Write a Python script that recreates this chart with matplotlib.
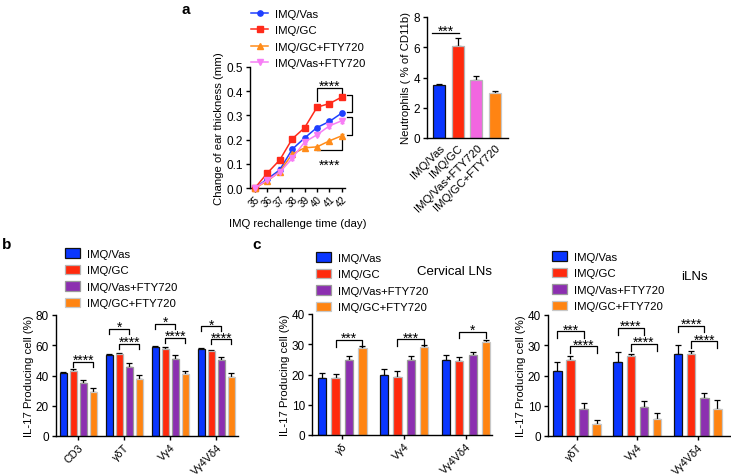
import matplotlib
matplotlib.use("Agg")
import matplotlib.pyplot as plt
from matplotlib.patches import Patch
from matplotlib.lines import Line2D
import numpy as np

plt.rcParams['font.family'] = ['Liberation Sans', 'DejaVu Sans']
plt.rcParams['font.size'] = 8.5
plt.rcParams['axes.linewidth'] = 1.0
plt.rcParams['xtick.major.width'] = 1.0
plt.rcParams['ytick.major.width'] = 1.0
plt.rcParams['xtick.major.size'] = 3
plt.rcParams['ytick.major.size'] = 3
plt.rcParams['xtick.labelsize'] = 8.5
plt.rcParams['ytick.labelsize'] = 8.5
plt.rcParams['ytick.major.pad'] = 2

# ---------------- data ----------------
days = [35, 36, 37, 38, 39, 40, 41, 42]
line_labels = ["IMQ/Vas", "IMQ/GC", "IMQ/GC+FTY720", "IMQ/Vas+FTY720"]
ear_vas = [0.0, 0.037, 0.075, 0.160, 0.207, 0.250, 0.275, 0.310]
ear_gc = [0.0, 0.062, 0.116, 0.203, 0.249, 0.334, 0.349, 0.376]
ear_gc_fty = [0.0, 0.029, 0.068, 0.140, 0.166, 0.170, 0.195, 0.216]
ear_vas_fty = [0.0, 0.033, 0.065, 0.123, 0.190, 0.220, 0.257, 0.278]
ear_vas_err = [0.0, 0.004, 0.010, 0.008, 0.006, 0.007, 0.006, 0.010]
ear_gc_err = [0.0, 0.005, 0.005, 0.006, 0.005, 0.006, 0.005, 0.008]
ear_gc_fty_err = [0.0, 0.005, 0.010, 0.008, 0.008, 0.005, 0.005, 0.006]
ear_vas_fty_err = [0.0, 0.004, 0.005, 0.008, 0.008, 0.005, 0.008, 0.010]

neu_labels = ["IMQ/Vas", "IMQ/GC", "IMQ/Vas+FTY720", "IMQ/GC+FTY720"]
neu_vals = [3.48, 6.08, 3.85, 2.97]
neu_errs = [0.10, 0.50, 0.22, 0.13]

bar_labels = ["IMQ/Vas", "IMQ/GC", "IMQ/Vas+FTY720", "IMQ/GC+FTY720"]

b_groups = ["CD3", "γδT", "Vγ4", "Vγ4Vδ4"]
b_vas = [41.4, 53.3, 58.6, 57.3]
b_gc = [43.0, 54.0, 57.7, 56.0]
b_vas_fty = [34.8, 45.8, 51.1, 50.0]
b_gc_fty = [29.3, 37.9, 40.7, 39.2]
b_vas_err = [1.0, 0.6, 1.0, 0.8]
b_gc_err = [1.0, 1.0, 1.0, 1.0]
b_vas_fty_err = [2.5, 2.5, 2.5, 2.5]
b_gc_fty_err = [2.5, 2.5, 2.5, 2.5]

cl_groups = ["γδ", "Vγ4", "Vγ4Vδ4"]
cl_vas = [19.0, 19.8, 24.8]
cl_gc = [18.7, 19.3, 24.6]
cl_vas_fty = [24.9, 24.8, 26.3]
cl_gc_fty = [28.6, 29.0, 30.7]
cl_vas_err = [1.6, 1.9, 1.6]
cl_gc_err = [1.6, 1.8, 1.3]
cl_vas_fty_err = [1.3, 1.4, 1.3]
cl_gc_fty_err = [0.9, 0.9, 0.8]

il_groups = ["γδT", "Vγ4", "Vγ4Vδ4"]
il_vas = [21.5, 24.5, 27.1]
il_gc = [25.2, 26.3, 27.1]
il_vas_fty = [8.8, 9.7, 12.4]
il_gc_fty = [3.9, 5.5, 8.8]
il_vas_err = [3.1, 3.3, 3.1]
il_gc_err = [1.1, 0.8, 1.1]
il_vas_fty_err = [2.2, 1.9, 1.8]
il_gc_fty_err = [1.4, 2.0, 3.1]

# significance: (group, bar_i, bar_j, y, text)
b_sigs = [(0, 1, 3, 49, "****"), (1, 0, 2, 71, "*"), (1, 1, 3, 61, "****"),
          (2, 0, 2, 74, "*"), (2, 1, 3, 65, "****"), (3, 0, 2, 72.5, "*"),
          (3, 1, 3, 64, "****")]
cl_sigs = [(0, 1, 3, 31.4, "***"), (1, 1, 3, 31.6, "***"), (2, 1, 3, 34.2, "*")]
il_sigs = [(0, 0, 2, 34.6, "***"), (0, 1, 3, 29.6, "****"),
           (1, 0, 2, 35.7, "****"), (1, 1, 3, 30.4, "****"),
           (2, 0, 2, 36.5, "****"), (2, 1, 3, 31.3, "****")]

# ---------------- styles ----------------
BLUE = '#0a36ff'
RED = '#ff2a0d'
PURPLE = '#8c2fb0'
ORANGE = '#ff8412'
PINK = '#f266e0'
bar_colors = [BLUE, RED, PURPLE, ORANGE]
bar_edges = ['#111111', '#b5b5b5', '#9a9a9a', '#c8c8c8']
LEG_FS = 8.2
LAB_FS = 8.2
STAR_FS = 10

W, H = 731, 477
fig = plt.figure(figsize=(W / 100, H / 100), dpi=100)


def add_ax(x0, y0, x1, y1):
    ax = fig.add_axes([x0 / W, 1 - y1 / H, (x1 - x0) / W, (y1 - y0) / H])
    ax.spines['top'].set_visible(False)
    ax.spines['right'].set_visible(False)
    return ax


def fig_pt(x, y):
    return (x / W, 1 - y / H)


def stars(ax, x, y, txt, dy=-1.5):
    ax.annotate(txt, xy=(x, y), xytext=(0, dy), textcoords='offset points',
                ha='center', va='baseline', fontsize=STAR_FS, annotation_clip=False)


# ---------------- panel a: line chart ----------------
ax = add_ax(250, 68, 345, 189)
series = [(ear_vas, ear_vas_err, '#1f3fff', 'o'),
          (ear_gc, ear_gc_err, '#ff2a1a', 's'),
          (ear_gc_fty, ear_gc_fty_err, '#ff8c1a', '^'),
          (ear_vas_fty, ear_vas_fty_err, '#f77ef5', 'v')]
handles = []
for (vals, errs, col, mk), lab in zip(series, line_labels):
    ax.errorbar(days, vals, yerr=errs, color=col, marker=mk, markersize=3.8,
                lw=1.1, capsize=1.5, elinewidth=0.8, clip_on=False, zorder=3)
    handles.append(Line2D([0], [0], color=col, marker=mk, markersize=3.8, lw=1.1))
ax.set_xlim(34.6, 42.25)
ax.set_ylim(0, 0.5)
ax.set_xticks(days)
ax.set_xticklabels([str(d) for d in days], rotation=45, ha='right',
                   rotation_mode='anchor', fontsize=7)
ax.tick_params(axis='x', pad=1)
ax.set_yticks([0, 0.1, 0.2, 0.3, 0.4, 0.5])
ax.set_yticklabels(["0.0", "0.1", "0.2", "0.3", "0.4", "0.5"])
ax.set_ylabel("Change of ear thickness (mm)", fontsize=LAB_FS, labelpad=2)
ax.set_xlabel("IMQ rechallenge time (day)", fontsize=LAB_FS, labelpad=7)
# brackets
ax.plot([40, 40, 42, 42], [0.36, 0.415, 0.415, 0.39], color='k', lw=0.9, clip_on=False)
stars(ax, 41, 0.415, "****")
ax.plot([40, 42, 42], [0.155, 0.155, 0.2], color='k', lw=0.9, clip_on=False)
stars(ax, 41, 0.155, "****", dy=-13.4)
ax.plot([42.45, 42.8, 42.8, 42.45], [0.383, 0.383, 0.313, 0.313], color='k', lw=0.9, clip_on=False)
ax.plot([42.45, 42.8, 42.8, 42.45], [0.293, 0.293, 0.220, 0.220], color='k', lw=0.9, clip_on=False)
ax.legend(handles, line_labels, loc='upper left', bbox_to_anchor=fig_pt(251, 10),
          bbox_transform=fig.transFigure, frameon=False, fontsize=LEG_FS,
          handlelength=1.5, handletextpad=0.6, labelspacing=0.56,
          borderpad=0, borderaxespad=0)
fig.text(*fig_pt(182, 10), "a", fontsize=11, fontweight='bold', va='center', ha='left')

# ---------------- panel a: neutrophil bars ----------------
ax = add_ax(427, 18, 508, 139)
xpos = np.arange(len(neu_vals))
neu_colors = [BLUE, RED, PINK, ORANGE]
neu_edges = ['#111111', '#b5b5b5', '#b5b5b5', '#c8c8c8']
ax.bar(xpos, neu_vals, width=0.64, color=neu_colors, edgecolor=neu_edges, linewidth=0.9, zorder=2)
ax.errorbar(xpos, neu_vals, yerr=[np.zeros(4), neu_errs], fmt='none', ecolor='k',
            elinewidth=0.9, capsize=2.2, capthick=0.9, zorder=1)
ax.set_xlim(-0.64, 3.69)
ax.set_ylim(0, 8)
ax.set_yticks([0, 2, 4, 6, 8])
ax.set_xticks(xpos)
ax.set_xticklabels(neu_labels, rotation=45, ha='right', rotation_mode='anchor', fontsize=8.2)
ax.tick_params(axis='x', length=0, pad=3)
ax.set_ylabel("Neutrophils ( % of CD11b)", fontsize=LAB_FS, labelpad=2)
ax.plot([-0.35, 1.05], [6.96, 6.96], color='k', lw=0.9)
stars(ax, 0.35, 6.96, "***")


# ---------------- bar panels ----------------
def bar_panel(box, groups, vals, errs, width, xlim, ylim, yticks, sigs, leg_h, leg_anchor):
    ax = add_ax(*box)
    g = np.arange(len(groups))
    offs = np.array([-1.5, -0.5, 0.5, 1.5]) * 0.217
    for i in range(4):
        x = g + offs[i]
        ax.bar(x, vals[i], width=width, color=bar_colors[i], edgecolor=bar_edges[i],
               linewidth=0.9, zorder=2)
        ax.errorbar(x, vals[i], yerr=[np.zeros(len(groups)), errs[i]], fmt='none',
                    ecolor='k', elinewidth=0.9, capsize=2, capthick=0.9, zorder=1)
    ax.set_xlim(*xlim)
    ax.set_ylim(*ylim)
    ax.set_yticks(yticks)
    ax.set_xticks(g)
    ax.set_xticklabels(groups, rotation=45, ha='right', rotation_mode='anchor', fontsize=7.8)
    ax.tick_params(axis='x', pad=1)
    ax.set_ylabel("IL-17 Producing cell (%)", fontsize=LAB_FS, labelpad=1)
    for (gi, bi, bj, y, txt) in sigs:
        x1 = gi + offs[bi]
        x2 = gi + offs[bj]
        ax.plot([x1, x1, x2, x2], [y - leg_h, y, y, y - leg_h], color='k', lw=0.9, clip_on=False)
        stars(ax, (x1 + x2) / 2, y, txt)
    hs = [Patch(facecolor=bar_colors[i], edgecolor=bar_edges[i], linewidth=0.9) for i in range(4)]
    ax.legend(hs, bar_labels, loc='upper left', bbox_to_anchor=fig_pt(*leg_anchor),
              bbox_transform=fig.transFigure, frameon=False, fontsize=LEG_FS,
              handlelength=1.3, handleheight=0.95, handletextpad=0.65, labelspacing=0.5,
              borderpad=0, borderaxespad=0)
    return ax


bar_panel((56, 316, 238, 437), b_groups,
          [b_vas, b_gc, b_vas_fty, b_gc_fty],
          [b_vas_err, b_gc_err, b_vas_fty_err, b_gc_fty_err],
          0.15, (-0.48, 3.47), (0, 80), [0, 20, 40, 60, 80], b_sigs, 3.3, (65, 249))
fig.text(*fig_pt(2, 245), "b", fontsize=11, fontweight='bold', va='center', ha='left')

bar_panel((312, 315, 492, 436), cl_groups,
          [cl_vas, cl_gc, cl_vas_fty, cl_gc_fty],
          [cl_vas_err, cl_gc_err, cl_vas_fty_err, cl_gc_fty_err],
          0.135, (-0.49, 2.42), (0, 40), [0, 10, 20, 30, 40], cl_sigs, 2.2, (316, 253))
fig.text(*fig_pt(252, 245), "c", fontsize=11, fontweight='bold', va='center', ha='left')
fig.text(*fig_pt(455, 272), "Cervical LNs", fontsize=9.5, va='center', ha='center')

bar_panel((548, 316, 731, 437), il_groups,
          [il_vas, il_gc, il_vas_fty, il_gc_fty],
          [il_vas_err, il_gc_err, il_vas_fty_err, il_gc_fty_err],
          0.14, (-0.48, 2.55), (0, 40), [0, 10, 20, 30, 40], il_sigs, 2.2, (552, 252))
fig.text(*fig_pt(694, 277), "iLNs", fontsize=9.5, va='center', ha='center')

fig.savefig("out.png", dpi=100)
